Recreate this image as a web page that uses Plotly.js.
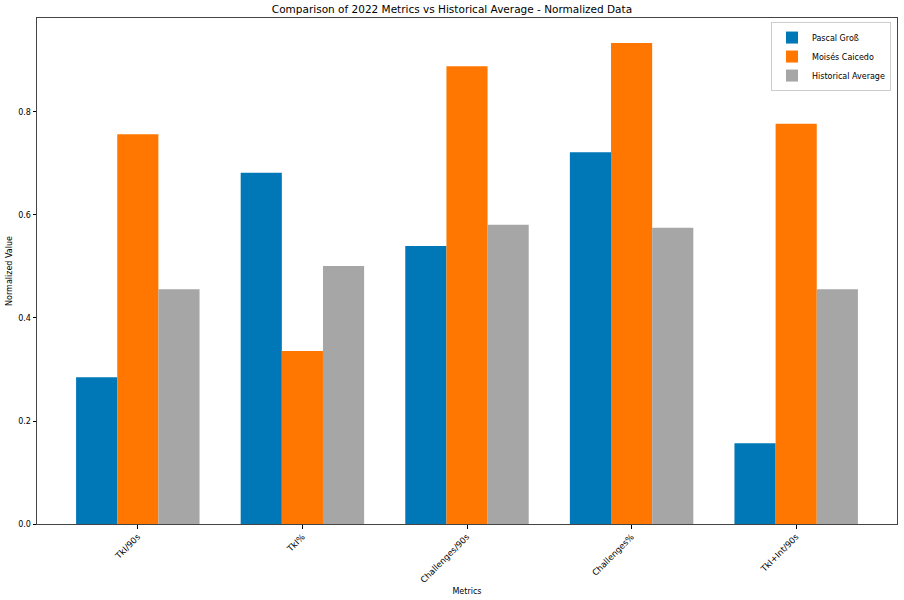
<!DOCTYPE html>
<html>
<head>
<meta charset="utf-8">
<script src="https://cdn.plot.ly/plotly-3.0.1.min.js"></script>
<style>html,body{margin:0;padding:0;background:#fff;}#chart{width:904px;height:600px;}</style>
</head>
<body>
<div id="chart"></div>
<script>
const categories = ["TkI/90s", "TkI%", "Challenges/90s", "Challenges%", "TkI+Int/90s"];
const pascal = [0.285, 0.682, 0.540, 0.722, 0.157];
const moises = [0.757, 0.336, 0.889, 0.934, 0.777];
const historical = [0.456, 0.501, 0.581, 0.575, 0.456];
const seriesNames = ["Pascal Groß", "Moisés Caicedo", "Historical Average"];
const colors = ["#0077b6", "#ff7700", "#a6a6a6"];
const yTicks = [0, 0.2, 0.4, 0.6, 0.8];

const idx = categories.map((c, i) => i);
const data = [pascal, moises, historical].map((vals, k) => ({
  type: "bar",
  x: idx,
  y: vals,
  name: seriesNames[k],
  marker: {color: colors[k], line: {width: 0}},
  hoverinfo: "y"
}));

const font = {family: "DejaVu Sans, sans-serif", size: 8, color: "#000"};
const layout = {
  width: 904, height: 600,
  margin: {l: 37, r: 7, t: 18, b: 76},
  paper_bgcolor: "#fff", plot_bgcolor: "#fff",
  font: font,
  barmode: "group", bargap: 0.25, bargroupgap: 0,
  title: {text: "Comparison of 2022 Metrics vs Historical Average - Normalized Data",
          font: {family: "DejaVu Sans, sans-serif", size: 10.5, color: "#000"},
          x: 0.5, xanchor: "center", y: 0.99, yanchor: "top"},
  xaxis: {
    range: [-0.6125, 4.6125],
    tickvals: idx, ticktext: categories, tickangle: -45,
    ticks: "outside", ticklen: 3.5, tickcolor: "#000",
    showline: true, mirror: true, linecolor: "#444", linewidth: 1,
    showgrid: false, zeroline: false,
    tickfont: {family: "DejaVu Sans, sans-serif", size: 8.5, color: "#000"},
    title: {text: "Metrics", font: font, standoff: 4}
  },
  yaxis: {
    range: [0, 0.9825],
    tickvals: yTicks, ticktext: yTicks.map(v => v.toFixed(1)),
    ticks: "outside", ticklen: 3.5, tickcolor: "#000",
    showline: true, mirror: true, linecolor: "#444", linewidth: 1,
    showgrid: false, zeroline: false,
    tickfont: font,
    title: {text: "Normalized Value", font: font, standoff: 4}
  },
  legend: {
    x: 0.993, xanchor: "right", y: 0.992, yanchor: "top",
    bgcolor: "rgba(255,255,255,0.8)", bordercolor: "#ccc", borderwidth: 1,
    font: {family: "DejaVu Sans, sans-serif", size: 8, color: "#000"},
    tracegroupgap: 0, itemwidth: 30
  },
  showlegend: true
};

Plotly.newPlot("chart", data, layout, {displayModeBar: false, staticPlot: true});
</script>
</body>
</html>
